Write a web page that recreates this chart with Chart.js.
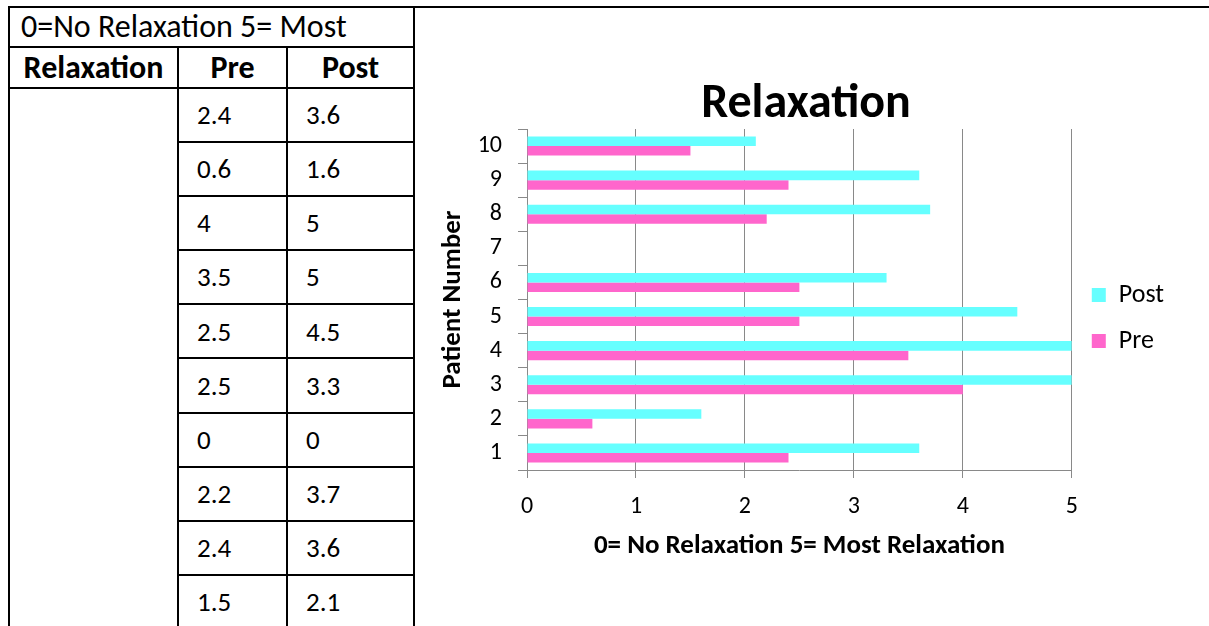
<!DOCTYPE html>
<html>
<head>
<meta charset="utf-8">
<title>Relaxation</title>
<script src="https://cdn.jsdelivr.net/npm/chart.js@4.4.1/dist/chart.umd.min.js"></script>
<style>
  html, body { margin: 0; padding: 0; background: #fff; }
  body { position: relative; width: 1209px; height: 626px; overflow: hidden; font-family: Carlito, Lato, sans-serif; color: #000; }
  .topline { position: absolute; left: 8px; top: 6px; width: 1201px; height: 2px; background: #000; }
  table.scores { position: absolute; left: 8px; top: 6px; border-collapse: collapse; table-layout: fixed; font-size: 32px; line-height: 1.1; }
  table.scores td { border: 2px solid #000; padding: 0; vertical-align: middle; }
  table.scores td.num { padding-left: 18px; font-size: 27px; }
  table.scores th { border: 2px solid #000; font-weight: bold; text-align: center; padding: 0; }
  table.scores td.caption { padding-left: 11px; }
  #chartBox { position: absolute; left: 415px; top: 10px; width: 794px; height: 616px; }
</style>
</head>
<body>
<div class="topline"></div>
<table class="scores" id="scores">
  <colgroup><col style="width:169px"><col style="width:109px"><col style="width:127px"></colgroup>
  <tr style="height:40px"><td class="caption" colspan="3">0=No Relaxation 5= Most</td></tr>
  <tr style="height:41px"><th>Relaxation</th><th>Pre</th><th>Post</th></tr>
</table>
<div id="chartBox"><canvas id="relaxChart" width="794" height="616"></canvas></div>

<script>
const patients = ['1', '2', '3', '4', '5', '6', '7', '8', '9', '10'];
const preScores = [2.4, 0.6, 4, 3.5, 2.5, 2.5, 0, 2.2, 2.4, 1.5];
const postScores = [3.6, 1.6, 5, 5, 4.5, 3.3, 0, 3.7, 3.6, 2.1];
const xTicks = [0, 1, 2, 3, 4, 5];

const POST_COLOR = '#66FFFF';
const PRE_COLOR = '#FF66CC';
const AXIS_GRAY = '#898989';
const FONT = 'Carlito, Lato, sans-serif';

// ---- table on the left ----
const table = document.getElementById('scores');
patients.forEach((p, i) => {
    const tr = document.createElement('tr');
    tr.style.height = '54.1px';
    if (i === 0) {
        const merged = document.createElement('td');
        merged.rowSpan = patients.length;
        tr.appendChild(merged);
    }
    [preScores[i], postScores[i]].forEach(v => {
        const td = document.createElement('td');
        td.className = 'num';
        td.textContent = String(v);
        tr.appendChild(td);
    });
    table.appendChild(tr);
});

// ---- chart on the right (patient 10 at the top) ----
const labels = patients.slice().reverse();
const postData = postScores.slice().reverse();
const preData = preScores.slice().reverse();

new Chart(document.getElementById('relaxChart'), {
    type: 'bar',
    data: {
        labels,
        datasets: [
            { label: 'Post', data: postData, backgroundColor: POST_COLOR, borderWidth: 0 },
            { label: 'Pre', data: preData, backgroundColor: PRE_COLOR, borderWidth: 0 }
        ]
    },
    options: {
        indexAxis: 'y',
        responsive: false,
        animation: false,
        devicePixelRatio: 1,
        layout: { padding: { left: 23, right: 35, top: 0, bottom: 0 } },
        datasets: { bar: { barPercentage: 1.0, categoryPercentage: 0.56 } },
        plugins: {
            title: {
                display: true,
                text: 'Relaxation',
                color: '#000',
                font: { family: FONT, size: 48, weight: 'bold', lineHeight: 1 },
                padding: { top: 71, bottom: 0 }
            },
            legend: {
                position: 'right',
                labels: {
                    color: '#000',
                    font: { family: FONT, size: 26 },
                    boxWidth: 14,
                    boxHeight: 14,
                    padding: 20
                }
            },
            tooltip: { enabled: false }
        },
        scales: {
            x: {
                min: 0,
                max: 5,
                afterBuildTicks: (axis) => { axis.ticks = xTicks.map(v => ({ value: v })); },
                afterFit: (axis) => { axis.height = 156; },
                grid: { color: AXIS_GRAY, tickLength: 8, drawTicks: true },
                border: { display: true, color: AXIS_GRAY },
                ticks: { color: '#000', font: { family: FONT, size: 24 }, padding: 15 },
                title: {
                    display: true,
                    text: '0= No Relaxation 5= Most Relaxation',
                    color: '#000',
                    font: { family: FONT, size: 27, weight: 'bold', lineHeight: 1 },
                    padding: { top: 0, bottom: 66 }
                }
            },
            y: {
                afterFit: (axis) => { axis.width = 89; },
                grid: { offset: true, drawOnChartArea: false, drawTicks: true, tickLength: 9, color: AXIS_GRAY },
                border: { display: true, color: AXIS_GRAY },
                ticks: { color: '#000', font: { family: FONT, size: 24 }, padding: 16 },
                title: {
                    display: true,
                    text: 'Patient Number',
                    color: '#000',
                    font: { family: FONT, size: 27, weight: 'bold', lineHeight: 1 },
                    padding: { top: 1.5, bottom: 0 }
                }
            }
        }
    }
});
</script>
</body>
</html>
